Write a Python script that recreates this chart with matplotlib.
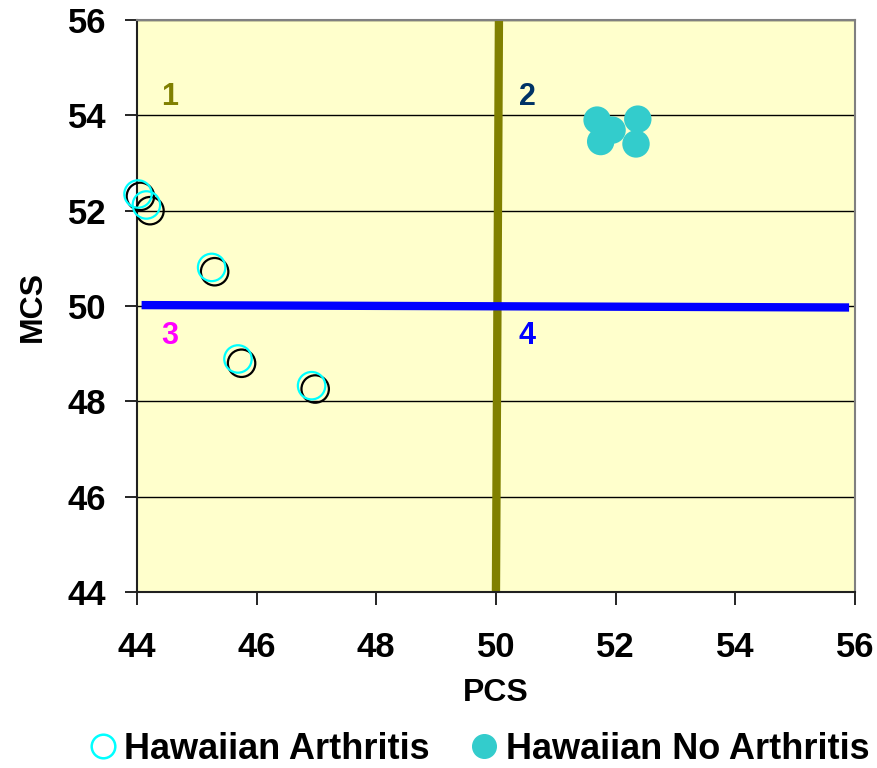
import matplotlib
matplotlib.use("Agg")
import matplotlib.pyplot as plt
from matplotlib.lines import Line2D

# PCS / MCS scores
arth_pcs = [44.02, 44.16, 45.25, 45.69, 46.92]
arth_mcs = [52.35, 52.12, 50.81, 48.89, 48.33]
shadow_pcs = [44.06, 44.22, 45.30, 45.75, 46.98]
shadow_mcs = [52.30, 52.00, 50.72, 48.80, 48.26]
noarth_pcs = [51.69, 51.94, 51.75, 52.37, 52.34]
noarth_mcs = [53.90, 53.69, 53.45, 53.92, 53.40]

quad_labels = ["1", "2", "3", "4"]
quad_x = [44.55, 50.52, 44.55, 50.52]
quad_y = [54.39, 54.39, 49.38, 49.38]
quad_colors = ["#808000", "#003366", "#FF00FF", "#0000FF"]

ticks = [44, 46, 48, 50, 52, 54, 56]

plt.rcParams["font.family"] = ["Liberation Sans", "DejaVu Sans"]
plt.rcParams["font.weight"] = "bold"

fig = plt.figure(figsize=(8.77, 7.68), dpi=100)
ax = fig.add_axes([0.156, 0.229, 0.819, 0.745])
ax.set_facecolor("#FFFFCC")

ax.set_xlim(44, 56)
ax.set_ylim(44, 56)
ax.set_xticks(ticks)
ax.set_yticks(ticks)
ax.yaxis.grid(True, color="black", linewidth=1.0)
ax.set_axisbelow(True)

for s in ["top", "right"]:
    ax.spines[s].set_color("#808080")
    ax.spines[s].set_linewidth(1.5)
for s in ["left", "bottom"]:
    ax.spines[s].set_color("#202020")
    ax.spines[s].set_linewidth(1.5)

ax.tick_params(axis="both", length=9, width=1.2, labelsize=25)
ax.tick_params(axis="x", pad=19)
ax.tick_params(axis="y", pad=13)
for lab in ax.get_xticklabels() + ax.get_yticklabels():
    lab.set_fontweight("bold")

# quadrant dividers
ax.plot([50.05, 50.0], [56, 44], color="#808000", linewidth=6, solid_capstyle="butt", zorder=2)
ax.plot([44.08, 55.9], [50.02, 49.97], color="#0000FF", linewidth=6, solid_capstyle="butt", zorder=2)

ax.scatter(shadow_pcs, shadow_mcs, s=390, facecolors="none", edgecolors="black",
           linewidths=1.6, zorder=3, clip_on=False)
ax.scatter(arth_pcs, arth_mcs, s=390, facecolors="none", edgecolors="#00FFFF",
           linewidths=1.6, zorder=4, clip_on=False)
ax.scatter(noarth_pcs, noarth_mcs, s=390, color="#33CCCC", edgecolors="none", zorder=4)

for t, x, y, c in zip(quad_labels, quad_x, quad_y, quad_colors):
    ax.text(x, y, t, color=c, fontsize=22, fontweight="bold", ha="center", va="center")

ax.set_xlabel("PCS", fontsize=23, fontweight="bold", labelpad=10)
ax.set_ylabel("MCS", fontsize=23, fontweight="bold", labelpad=14)

handles = [
    Line2D([], [], linestyle="none", marker="o", markersize=17, markerfacecolor="none",
           markeredgecolor="#00FFFF", markeredgewidth=1.8),
    Line2D([], [], linestyle="none", marker="o", markersize=17, markerfacecolor="#33CCCC",
           markeredgecolor="#33CCCC"),
]
fig.legend(handles, ["Hawaiian Arthritis", "Hawaiian No Arthritis"], loc="center",
           bbox_to_anchor=(0.547, 0.024), ncol=2, frameon=False,
           prop={"size": 26, "weight": "bold"}, handlelength=0.7, handletextpad=0.25,
           columnspacing=1.15, borderpad=0)

fig.savefig("out.png", dpi=100)
